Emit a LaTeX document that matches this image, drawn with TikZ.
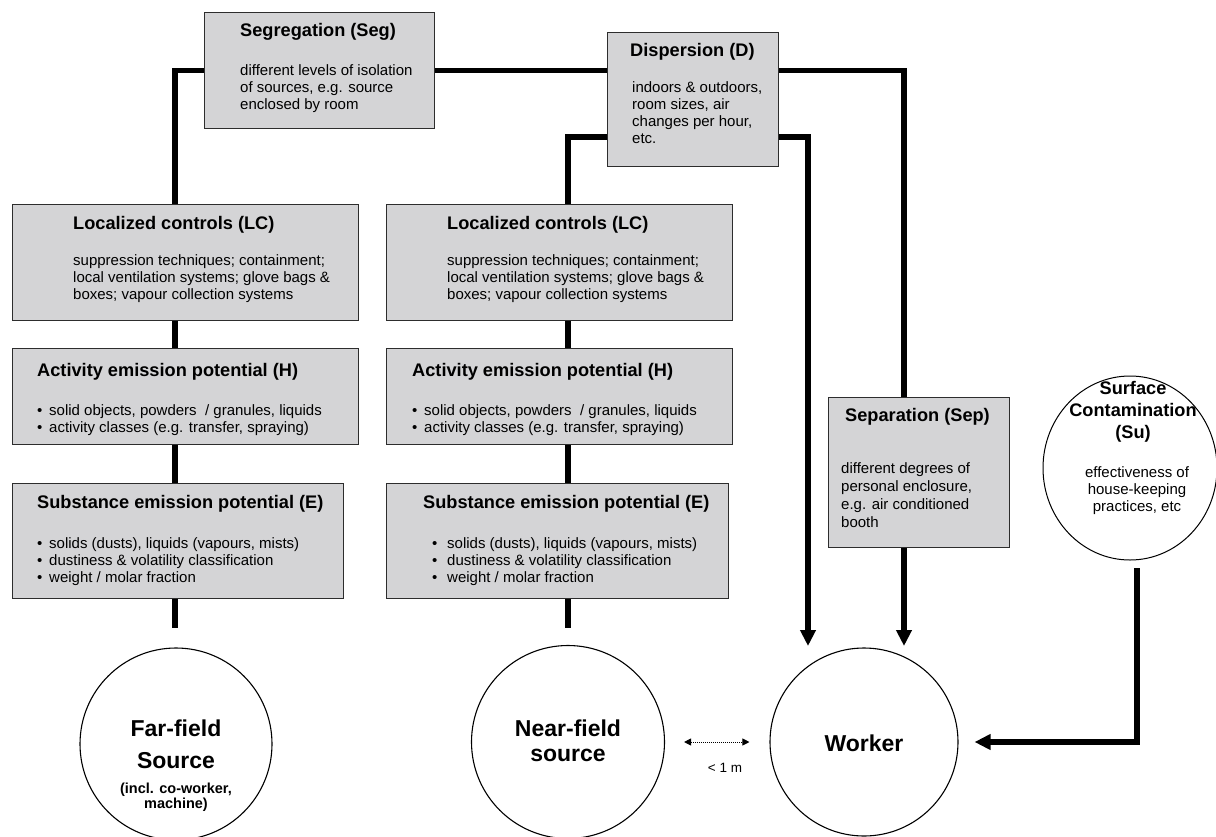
\documentclass[tikz,border=0pt]{standalone}
\usepackage{fontspec}
\setmainfont{Liberation Sans}
\usetikzlibrary{arrows.meta,shapes.geometric}
\definecolor{boxfill}{RGB}{212,212,214}
\definecolor{boxline}{RGB}{45,45,45}
\begin{document}
\begin{tikzpicture}[x=1pt,y=-1pt,
  box/.style={draw=boxline, line width=1.3pt, fill=boxfill, anchor=north west, inner sep=0pt, rectangle},
  ttl/.style={inner sep=0pt, anchor=base west, font=\fontsize{18.2}{22}\selectfont\bfseries},
  body/.style={inner sep=0pt, anchor=north west, align=left, font=\fontsize{15}{17}\selectfont},
  conn/.style={line width=5.5pt, line join=miter},
  arr/.style={conn, -{Triangle[width=15pt,length=16pt]}},
  dotarr/.style={line width=1pt, densely dotted, {Triangle[width=7pt,length=7pt]}-{Triangle[width=7pt,length=7pt]}},
  circ/.style={draw, line width=1.1pt, circle, inner sep=0pt},
  big/.style={inner sep=0pt, anchor=base, font=\fontsize{23}{27}\selectfont\bfseries},
  small/.style={inner sep=0pt, anchor=base, font=\fontsize{14.5}{16}\selectfont\bfseries},
]
\useasboundingbox[fill=white] (0,0) rectangle (1216,836);

% boxes
\node[box, minimum width=230pt, minimum height=116pt] (seg) at (204,12) {};
\node[box, minimum width=171pt, minimum height=134pt] (d) at (607,32) {};
\node[box, minimum width=346pt, minimum height=116pt] (lc1) at (12,204) {};
\node[box, minimum width=346pt, minimum height=116pt] (lc2) at (386,204) {};
\node[box, minimum width=346pt, minimum height=96pt] (h1) at (12,348) {};
\node[box, minimum width=346pt, minimum height=96pt] (h2) at (386,348) {};
\node[box, minimum width=331pt, minimum height=115pt] (e1) at (12,483) {};
\node[box, minimum width=342pt, minimum height=115pt] (e2) at (386,483) {};
\node[box, minimum width=181pt, minimum height=150pt] (sep) at (828,397) {};

% circles
\node[circ, minimum size=192pt] (ff) at (176,744) {};
\node[circ, minimum size=193pt] (nf) at (568,742) {};
\node[circ, minimum size=188pt] (wk) at (864,742) {};
\node[draw, ellipse, line width=1pt, inner sep=0pt, minimum width=174pt, minimum height=184pt] (su) at (1130,468) {};

% helper coordinates
\coordinate (c1) at (175,0);
\coordinate (c2) at (568,0);
\coordinate (c4) at (904,0);
\coordinate (dl) at (0,137);
\coordinate (w1) at (808,646);
\coordinate (w2) at (904,646);
\coordinate (f1) at (175,628);
\coordinate (f2) at (568,628);
\coordinate (s1) at (1137,568);

% connectors
\draw[conn] (seg.west) -| (c1 |- lc1.north);
\draw[conn] (seg.east) -- (seg.east -| d.west);
\draw[conn] (d.east |- seg.east) -| (c4 |- sep.north);
\draw[conn] (d.west |- dl) -| (c2 |- lc2.north);
\draw[arr] (d.east |- dl) -| (w1);
\draw[arr] (c4 |- sep.south) -- (w2);
\draw[conn] (c1 |- lc1.south) -- (c1 |- h1.north);
\draw[conn] (c1 |- h1.south) -- (c1 |- e1.north);
\draw[conn] (c1 |- e1.south) -- (f1);
\draw[conn] (c2 |- lc2.south) -- (c2 |- h2.north);
\draw[conn] (c2 |- h2.south) -- (c2 |- e2.north);
\draw[conn] (c2 |- e2.south) -- (f2);
\draw[arr, shorten >=16pt] (s1) |- (wk.east);
\draw[dotarr, shorten <=19pt, shorten >=20pt] (nf) -- (wk);

% texts
\node[ttl] (segt) at (240,36) {Segregation (Seg)};
\node[body] (segb) at (240,63.1) {\strut different levels of isolation\\of sources, e.g. source\\enclosed by room};
\node[ttl] (dt) at (630,56) {Dispersion (D)};
\node[body] (db) at (632,80.1) {\strut indoors \& outdoors,\\room sizes, air\\changes per hour,\\etc.};

\node[ttl] (lc1t) at (73,229) {Localized controls (LC)};
\node[body] (lc1b) at (73,253.1) {\strut suppression techniques; containment;\\local ventilation systems; glove bags \&\\boxes; vapour collection systems};
\node[ttl] (lc2t) at (447,229) {Localized controls (LC)};
\node[body] (lc2b) at (447,253.1) {\strut suppression techniques; containment;\\local ventilation systems; glove bags \&\\boxes; vapour collection systems};

\node[ttl] (h1t) at (37,376) {Activity emission potential (H)};
\node[body] (h1b) at (37,403.1) {\strut\makebox[12pt][l]{•}solid objects, powders~ / granules, liquids\\\makebox[12pt][l]{•}activity classes (e.g. transfer, spraying)};
\node[ttl] (h2t) at (412,376) {Activity emission potential (H)};
\node[body] (h2b) at (412,403.1) {\strut\makebox[12pt][l]{•}solid objects, powders~ / granules, liquids\\\makebox[12pt][l]{•}activity classes (e.g. transfer, spraying)};

\node[ttl] (e1t) at (37,508) {Substance emission potential (E)};
\node[body] (e1b) at (37,536.1) {\strut\makebox[12pt][l]{•}solids (dusts), liquids (vapours, mists)\\\makebox[12pt][l]{•}dustiness \& volatility classification\\\makebox[12pt][l]{•}weight / molar fraction};
\node[ttl] (e2t) at (423,508) {Substance emission potential (E)};
\node[body] (e2b) at (432,536.1) {\strut\makebox[15pt][l]{•}solids (dusts), liquids (vapours, mists)\\\makebox[15pt][l]{•}dustiness \& volatility classification\\\makebox[15pt][l]{•}weight / molar fraction};

\node[ttl] (sept) at (845,421) {Separation (Sep)};
\node[body, font=\fontsize{15}{18}\selectfont] (sepb) at (841,460.4) {\strut different degrees of\\personal enclosure,\\e.g. air conditioned\\booth};

\node[inner sep=0pt, anchor=north, align=center, font=\fontsize{18.2}{22}\selectfont\bfseries] (sut) at (1133,378.6) {\strut Surface\\Contamination\\(Su)};
\node[body, anchor=north, align=center] (sub) at (1137,465.1) {\strut effectiveness of\\house-keeping\\practices, etc};

\node[big] (fft1) at (176,736) {Far-field};
\node[big] (fft2) at (176,768) {Source};
\node[small] (fft3) at (176,793) {(incl. co-worker,};
\node[small] (fft4) at (176,808) {machine)};
\node[big] (nft1) at (568,736) {Near-field};
\node[big] (nft2) at (568,761) {source};
\node[big] (wkt) at (864,751) {Worker};
\node[inner sep=0pt, anchor=base, font=\fontsize{13.5}{16}\selectfont] (lm) at (725,772) {< 1 m};
\end{tikzpicture}
\end{document}
